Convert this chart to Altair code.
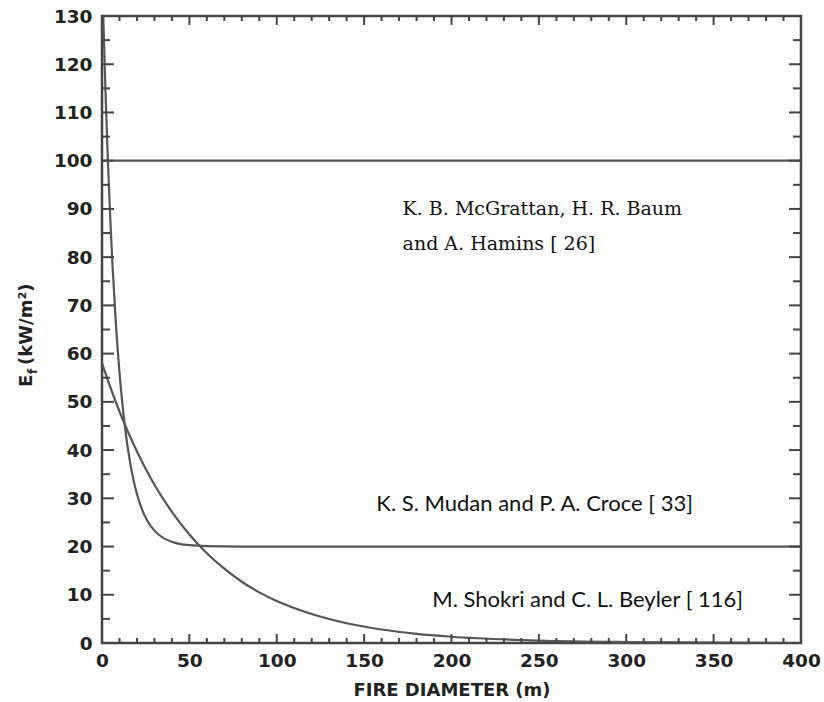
import altair as alt
import pandas as pd

# Flame emissive power E_f (kW/m^2) against fire diameter D (m) for three correlations
mudan_d = [0, 1, 2, 3, 4, 5, 6, 8, 10, 12, 14, 16, 18, 20, 23, 26, 30, 35, 40, 45, 50, 60, 80, 100, 200, 300, 400]
mudan_e = [140, 126.4, 114.4, 103.7, 94.3, 85.9, 78.4, 65.9, 56.1, 48.4, 42.4, 37.6, 33.8, 30.9,
           27.6, 25.3, 23.3, 21.8, 21.0, 20.5, 20.3, 20.1, 20.0, 20.0, 20.0, 20.0, 20.0]

shokri_d = [0, 5, 10, 20, 30, 40, 50, 60, 70, 80, 90, 100, 120, 140, 160, 180, 200, 250, 300, 350, 400]
shokri_e = [58, 52.8, 48.0, 39.7, 32.8, 27.2, 22.5, 18.6, 15.4, 12.7, 10.5, 8.7, 6.0, 4.1,
            2.8, 1.9, 1.3, 0.5, 0.2, 0.1, 0.0]

mcgrattan_d = [0, 400]
mcgrattan_e = [100, 100]

# Annotation labels (data coordinates of the left end of each baseline)
serif_labels = ["K. B. McGrattan, H. R. Baum", "and A. Hamins [ 26]"]
serif_x = [172, 172]
serif_y = [88.7, 81.5]
sans_labels = ["K. S. Mudan and P. A. Croce [ 33]", "M. Shokri and C. L. Beyler [ 116]"]
sans_x = [157, 189]
sans_y = [27.4, 7.5]

# Axis tick positions
x_major = list(range(0, 401, 50))
x_minor = [v for v in range(0, 401, 10) if v % 50]
y_major = list(range(0, 131, 10))
y_minor = list(range(5, 130, 10))

W, H = 699, 627
LINE = "#555555"
FRAME = "#444444"

xs = alt.Scale(domain=[0, 400], nice=False, zero=False)
ys = alt.Scale(domain=[0, 130], nice=False, zero=False)

curves = pd.concat([
    pd.DataFrame({"d": mudan_d, "e": mudan_e, "src": "mudan"}),
    pd.DataFrame({"d": shokri_d, "e": shokri_e, "src": "shokri"}),
    pd.DataFrame({"d": mcgrattan_d, "e": mcgrattan_e, "src": "mcgrattan"}),
])

lines = alt.Chart(curves).mark_line(
    color=LINE, strokeWidth=2.2, interpolate="monotone", clip=True
).encode(
    x=alt.X("d:Q", scale=xs,
            axis=alt.Axis(values=x_major, title="FIRE DIAMETER (m)")),
    y=alt.Y("e:Q", scale=ys, axis=alt.Axis(values=y_major, title="")),
    detail="src:N",
)

def ticks_x(vals, length):
    df = pd.DataFrame({"d": vals})
    bottom = alt.Chart(df).mark_rule(color=FRAME, strokeWidth=2).encode(
        x=alt.X("d:Q", scale=xs), y=alt.value(H), y2=alt.value(H - length))
    top = alt.Chart(df).mark_rule(color=FRAME, strokeWidth=2).encode(
        x=alt.X("d:Q", scale=xs), y=alt.value(0), y2=alt.value(length))
    return bottom + top

def ticks_y(vals, length):
    df = pd.DataFrame({"e": vals})
    left = alt.Chart(df).mark_rule(color=FRAME, strokeWidth=2).encode(
        y=alt.Y("e:Q", scale=ys), x=alt.value(0), x2=alt.value(length))
    right = alt.Chart(df).mark_rule(color=FRAME, strokeWidth=2).encode(
        y=alt.Y("e:Q", scale=ys), x=alt.value(W), x2=alt.value(W - length))
    return left + right

serif_text = alt.Chart(pd.DataFrame({"d": serif_x, "e": serif_y, "t": serif_labels})).mark_text(
    font="DejaVu Serif", fontSize=19, align="left", baseline="alphabetic", color="#111111"
).encode(x=alt.X("d:Q", scale=xs), y=alt.Y("e:Q", scale=ys), text="t:N")

sans_text = alt.Chart(pd.DataFrame({"d": sans_x, "e": sans_y, "t": sans_labels})).mark_text(
    font="Lato", fontSize=22, align="left", baseline="alphabetic", color="#111111"
).encode(x=alt.X("d:Q", scale=xs), y=alt.Y("e:Q", scale=ys), text="t:N")

# Rotated y-axis title with subscript: E_f (kW/m²)
ytitle = pd.DataFrame({
    "t": ["E", "f", "(kW/m²)"],
    "px": [-75, -69, -75],
    "py": [371, 358, 349],
    "fs": [18, 12, 18],
})
title_parts = []
for _, r in ytitle.iterrows():
    title_parts.append(
        alt.Chart(pd.DataFrame({"t": [r.t]})).mark_text(
            font="DejaVu Sans", fontWeight="bold", fontSize=int(r.fs), angle=270,
            align="left", baseline="middle", color="#222222"
        ).encode(x=alt.value(int(r.px)), y=alt.value(int(r.py)), text="t:N")
    )

chart = alt.layer(
    lines,
    ticks_x(x_major, 9), ticks_x(x_minor, 5),
    ticks_y(y_major, 12), ticks_y(y_minor, 8),
    serif_text, sans_text, *title_parts,
).properties(
    width=W, height=H,
    padding={"left": 102, "top": 16, "right": 23, "bottom": 59},
    autosize=alt.AutoSizeParams(type="none"),
).configure_view(
    stroke=FRAME, strokeWidth=2.5
).configure_axis(
    grid=False, ticks=False, domain=False, labelFlush=False,
    labelFont="DejaVu Sans", labelFontWeight="bold", labelFontSize=18.5, labelColor="#222222",
    titleFont="DejaVu Sans", titleFontWeight="bold", titleFontSize=18, titleColor="#222222",
).configure_axisX(
    labelPadding=8, titlePadding=12,
).configure_axisY(
    labelPadding=10,
)

chart.save("out.html", embed_options={"renderer": "svg", "actions": False})
